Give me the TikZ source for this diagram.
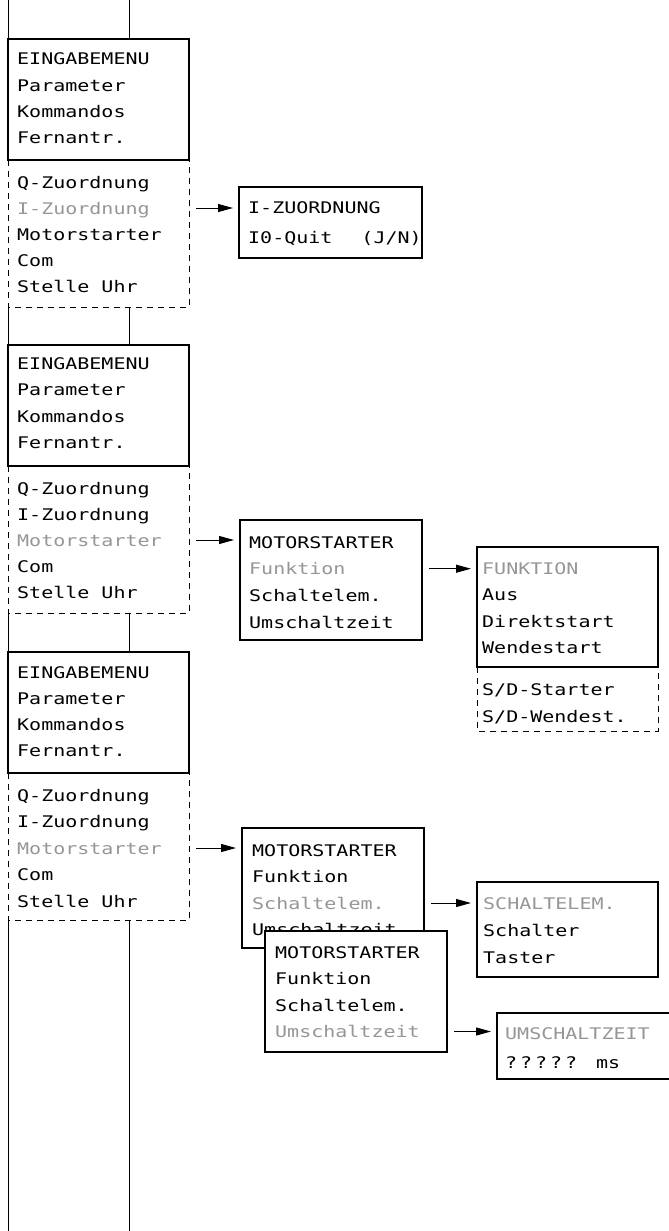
\documentclass[tikz,border=0pt]{standalone}
\usepackage{fontspec}
\newfontfamily\lcd[FakeStretch=1.25]{DejaVu Sans Mono}
\usetikzlibrary{arrows.meta}
\definecolor{lgray}{RGB}{150,150,150}
\begin{document}
\begin{tikzpicture}[x=1pt,y=-1pt,
  box/.style 2 args={draw, line width=2pt, anchor=north west, inner sep=0pt, outer sep=0pt,
    minimum width=#1pt, minimum height=#2pt, fill=white},
  dbox/.style 2 args={anchor=north west, inner sep=0pt, outer sep=0pt,
    minimum width=#1pt, minimum height=#2pt},
  dsh/.style={line width=1pt, dash pattern=on 6pt off 5pt},
  flow/.style={line width=1pt},
  lbl/.style={font={\lcd\fontsize{16pt}{18pt}\selectfont}, anchor=west, inner sep=0pt,
    text height=13pt, text depth=1pt},
  arr/.style={line width=1pt, -{Triangle[length=15pt,width=8pt]}, shorten <=7pt, shorten >=6pt}]
\useasboundingbox (0,0) rectangle (669,1231);

% ---------- left column ----------
\node[box={181}{121}] (m1) at (8,39) {};
\node[dbox={181}{147}] (d1) at (8,160) {};
\node[box={181}{121}] (m2) at (8,345) {};
\node[dbox={181}{147}] (d2) at (8,466) {};
\node[box={181}{121}] (m3) at (8,652) {};
\node[dbox={181}{147}] (d3) at (8,773) {};

\draw[dsh] (d1.north west) -- (d1.south west) -- (d1.south east) -- (d1.north east);
\draw[dsh] (d2.north west) -- (d2.south west) -- (d2.south east) -- (d2.north east);
\draw[dsh] (d3.north west) -- (d3.south west) -- (d3.south east) -- (d3.north east);

\coordinate (L0) at (8,0);
\coordinate (R0) at (129,0);
\coordinate (L1) at (8,1231);
\coordinate (R1) at (129,1231);
\draw[flow] (L0) -- (m1.north west);
\draw[flow] (R0) -- (R0 |- m1.north);
\draw[flow] (d1.south west) -- (m2.north west);
\draw[flow] (d1.south -| R0) -- (m2.north -| R0);
\draw[flow] (d2.south west) -- (m3.north west);
\draw[flow] (d2.south -| R0) -- (m3.north -| R0);
\draw[flow] (d3.south west) -- (L1);
\draw[flow] (d3.south -| R0) -- (R1);

\foreach \t [count=\i] in {EINGABEMENU,Parameter,Kommandos,Fernantr.}
  \node[lbl] (m1l\i) at (17,{59+26.3*(\i-1)}) {\t};
\foreach \t [count=\i] in {Q-Zuordnung,{\color{lgray}I-Zuordnung},Motorstarter,Com,Stelle Uhr}
  \node[lbl] (d1l\i) at (17,{182+26*(\i-1)}) {\t};
\foreach \t [count=\i] in {EINGABEMENU,Parameter,Kommandos,Fernantr.}
  \node[lbl] (m2l\i) at (17,{363+26.5*(\i-1)}) {\t};
\foreach \t [count=\i] in {Q-Zuordnung,I-Zuordnung,{\color{lgray}Motorstarter},Com,Stelle Uhr}
  \node[lbl] (d2l\i) at (17,{488+26*(\i-1)}) {\t};
\foreach \t [count=\i] in {EINGABEMENU,Parameter,Kommandos,Fernantr.}
  \node[lbl] (m3l\i) at (17,{672+26.3*(\i-1)}) {\t};
\foreach \t [count=\i] in {Q-Zuordnung,I-Zuordnung,{\color{lgray}Motorstarter},Com,Stelle Uhr}
  \node[lbl] (d3l\i) at (17,{795+26.5*(\i-1)}) {\t};

% ---------- I-ZUORDNUNG ----------
\node[box={183}{71}] (iz) at (239,187) {};
\node[lbl] (izl1) at (248,207) {I-ZUORDNUNG};
\node[lbl] (izl2) at (248,237) {I0-Quit\hspace{29pt}(J/N)};

% ---------- MOTORSTARTER (section 2) ----------
\node[box={182}{120}] (ms) at (240,520) {};
\foreach \t [count=\i] in {MOTORSTARTER,{\color{lgray}Funktion},Schaltelem.,Umschaltzeit}
  \node[lbl] (msl\i) at (249,{542+26.7*(\i-1)}) {\t};

% ---------- FUNKTION ----------
\node[box={181}{120}] (fk) at (477,547) {};
\node[dbox={181}{64}] (fd) at (477,667) {};
\draw[dsh] (fd.north west) -- (fd.south west) -- (fd.south east) -- (fd.north east);
\foreach \t [count=\i] in {{\color{lgray}FUNKTION},Aus,Direktstart,Wendestart}
  \node[lbl] (fkl\i) at (482,{568+26.5*(\i-1)}) {\t};
\foreach \t [count=\i] in {S/D-Starter,S/D-Wendest.}
  \node[lbl] (fdl\i) at (482,{689+27.5*(\i-1)}) {\t};

% ---------- MOTORSTARTER (section 3) ----------
\node[box={182}{120}] (ma) at (242,828) {};
\foreach \t [count=\i] in {MOTORSTARTER,Funktion,{\color{lgray}Schaltelem.},Umschaltzeit}
  \node[lbl] (mal\i) at (252,{850+26.5*(\i-1)}) {\t};
\node[box={182}{121}] (mb) at (265,931) {};
\foreach \t [count=\i] in {MOTORSTARTER,Funktion,Schaltelem.,{\color{lgray}Umschaltzeit}}
  \node[lbl] (mbl\i) at (275,{952+26.5*(\i-1)}) {\t};

% ---------- SCHALTELEM. ----------
\node[box={181}{95}] (se) at (477,882) {};
\foreach \t [count=\i] in {{\color{lgray}SCHALTELEM.},Schalter,Taster}
  \node[lbl] (sel\i) at (483,{903+27*(\i-1)}) {\t};

% ---------- UMSCHALTZEIT ----------
\node[box={200}{66}] (um) at (497,1013) {};
\node[lbl] (uml1) at (505,1033) {\color{lgray}UMSCHALTZEIT};
\node[lbl] (uml2) at (505,1062) {\makebox[15pt][l]{?}\makebox[15pt][l]{?}\makebox[15pt][l]{?}\makebox[15pt][l]{?}\makebox[15pt][l]{?}\hspace{16pt}ms};

% ---------- arrows ----------
\draw[arr] (d1.east |- d1l2.west) -- (iz.west |- d1l2.west);
\draw[arr] (d2.east |- d2l3.west) -- (ms.west |- d2l3.west);
\draw[arr] (ms.east |- msl2.west) -- (fk.west |- msl2.west);
\draw[arr] (d3.east |- d3l3.west) -- (ma.west |- d3l3.west);
\draw[arr] (ma.east |- mal3.west) -- (se.west |- mal3.west);
\draw[arr] (mb.east |- mbl4.west) -- (um.west |- mbl4.west);
\end{tikzpicture}
\end{document}
